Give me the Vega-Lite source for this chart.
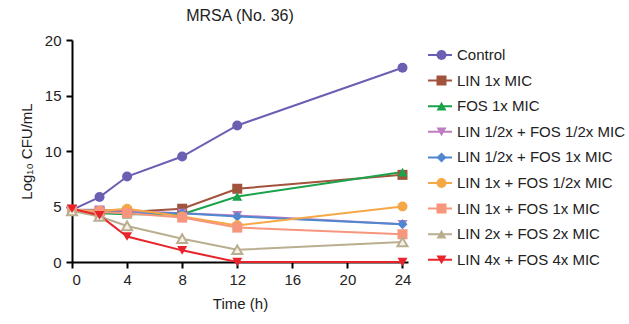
{
  "$schema": "https://vega.github.io/schema/vega-lite/v6.json",
  "autosize": {"type": "none"},
  "width": 336,
  "height": 222,
  "padding": {"left": 72, "top": 40, "right": 221, "bottom": 62},
  "background": "white",
  "title": {"text": "MRSA (No. 36)", "font": "Liberation Sans", "fontSize": 16, "fontWeight": "normal", "color": "#222", "anchor": "middle", "offset": 9},
  "config": {
    "view": {"stroke": null},
    "font": "Liberation Sans",
    "axis": {"domainColor": "#000", "domainWidth": 2, "tickColor": "#000", "tickWidth": 2, "tickSize": 6, "grid": false, "labelFont": "Liberation Sans", "labelFontSize": 15, "labelColor": "#222", "titleFont": "Liberation Sans", "titleFontSize": 15, "titleFontWeight": "normal", "titleColor": "#222"}
  },
  "data": {"values": [
    {"series": "Control", "code": "a", "t": 0, "v": 4.7},
    {"series": "Control", "code": "a", "t": 2, "v": 5.85},
    {"series": "Control", "code": "a", "t": 4, "v": 7.7},
    {"series": "Control", "code": "a", "t": 8, "v": 9.5},
    {"series": "Control", "code": "a", "t": 12, "v": 12.3},
    {"series": "Control", "code": "a", "t": 24, "v": 17.5},
    {"series": "LIN 1x MIC", "code": "b", "t": 0, "v": 4.7},
    {"series": "LIN 1x MIC", "code": "b", "t": 2, "v": 4.6},
    {"series": "LIN 1x MIC", "code": "b", "t": 4, "v": 4.5},
    {"series": "LIN 1x MIC", "code": "b", "t": 8, "v": 4.8},
    {"series": "LIN 1x MIC", "code": "b", "t": 12, "v": 6.6},
    {"series": "LIN 1x MIC", "code": "b", "t": 24, "v": 7.85},
    {"series": "FOS 1x MIC", "code": "c", "t": 0, "v": 4.7},
    {"series": "FOS 1x MIC", "code": "c", "t": 2, "v": 4.4},
    {"series": "FOS 1x MIC", "code": "c", "t": 4, "v": 4.3},
    {"series": "FOS 1x MIC", "code": "c", "t": 8, "v": 4.3},
    {"series": "FOS 1x MIC", "code": "c", "t": 12, "v": 5.9},
    {"series": "FOS 1x MIC", "code": "c", "t": 24, "v": 8.1},
    {"series": "LIN 1/2x + FOS 1/2x MIC", "code": "d", "t": 0, "v": 4.7},
    {"series": "LIN 1/2x + FOS 1/2x MIC", "code": "d", "t": 2, "v": 4.7},
    {"series": "LIN 1/2x + FOS 1/2x MIC", "code": "d", "t": 4, "v": 4.6},
    {"series": "LIN 1/2x + FOS 1/2x MIC", "code": "d", "t": 8, "v": 4.4},
    {"series": "LIN 1/2x + FOS 1/2x MIC", "code": "d", "t": 12, "v": 4.2},
    {"series": "LIN 1/2x + FOS 1/2x MIC", "code": "d", "t": 24, "v": 3.4},
    {"series": "LIN 1/2x + FOS 1x MIC", "code": "e", "t": 0, "v": 4.7},
    {"series": "LIN 1/2x + FOS 1x MIC", "code": "e", "t": 2, "v": 4.6},
    {"series": "LIN 1/2x + FOS 1x MIC", "code": "e", "t": 4, "v": 4.4},
    {"series": "LIN 1/2x + FOS 1x MIC", "code": "e", "t": 8, "v": 4.4},
    {"series": "LIN 1/2x + FOS 1x MIC", "code": "e", "t": 12, "v": 4.1},
    {"series": "LIN 1/2x + FOS 1x MIC", "code": "e", "t": 24, "v": 3.4},
    {"series": "LIN 1x + FOS 1/2x MIC", "code": "f", "t": 0, "v": 4.7},
    {"series": "LIN 1x + FOS 1/2x MIC", "code": "f", "t": 2, "v": 4.6},
    {"series": "LIN 1x + FOS 1/2x MIC", "code": "f", "t": 4, "v": 4.8},
    {"series": "LIN 1x + FOS 1/2x MIC", "code": "f", "t": 8, "v": 4.1},
    {"series": "LIN 1x + FOS 1/2x MIC", "code": "f", "t": 12, "v": 3.3},
    {"series": "LIN 1x + FOS 1/2x MIC", "code": "f", "t": 24, "v": 5.0},
    {"series": "LIN 1x + FOS 1x MIC", "code": "g", "t": 0, "v": 4.6},
    {"series": "LIN 1x + FOS 1x MIC", "code": "g", "t": 2, "v": 4.5},
    {"series": "LIN 1x + FOS 1x MIC", "code": "g", "t": 4, "v": 4.4},
    {"series": "LIN 1x + FOS 1x MIC", "code": "g", "t": 8, "v": 4.0},
    {"series": "LIN 1x + FOS 1x MIC", "code": "g", "t": 12, "v": 3.1},
    {"series": "LIN 1x + FOS 1x MIC", "code": "g", "t": 24, "v": 2.5},
    {"series": "LIN 2x + FOS 2x MIC", "code": "h", "t": 0, "v": 4.6},
    {"series": "LIN 2x + FOS 2x MIC", "code": "h", "t": 2, "v": 4.1},
    {"series": "LIN 2x + FOS 2x MIC", "code": "h", "t": 4, "v": 3.25},
    {"series": "LIN 2x + FOS 2x MIC", "code": "h", "t": 8, "v": 2.1},
    {"series": "LIN 2x + FOS 2x MIC", "code": "h", "t": 12, "v": 1.1},
    {"series": "LIN 2x + FOS 2x MIC", "code": "h", "t": 24, "v": 1.8},
    {"series": "LIN 4x + FOS 4x MIC", "code": "i", "t": 0, "v": 4.8},
    {"series": "LIN 4x + FOS 4x MIC", "code": "i", "t": 2, "v": 4.2},
    {"series": "LIN 4x + FOS 4x MIC", "code": "i", "t": 4, "v": 2.3},
    {"series": "LIN 4x + FOS 4x MIC", "code": "i", "t": 8, "v": 1.05},
    {"series": "LIN 4x + FOS 4x MIC", "code": "i", "t": 12, "v": 0},
    {"series": "LIN 4x + FOS 4x MIC", "code": "i", "t": 24, "v": 0}
  ]},
  "encoding": {
    "x": {"field": "t", "type": "quantitative", "scale": {"domain": [0, 24.4], "nice": false}, "axis": {"values": [0, 4, 8, 12, 16, 20, 24], "title": "Time (h)", "titlePadding": 9, "labelPadding": 4}},
    "y": {"field": "v", "type": "quantitative", "scale": {"domain": [0, 20], "nice": false}, "axis": {"values": [0, 5, 10, 15, 20], "title": "Log₁₀ CFU/mL", "titlePadding": 10, "labelPadding": 5}}
  },
  "layer": [
    {
      "mark": {"type": "line", "strokeWidth": 2, "clip": false},
      "encoding": {
        "stroke": {"field": "series", "type": "nominal",
          "scale": {"domain": ["Control", "LIN 1x MIC", "FOS 1x MIC", "LIN 1/2x + FOS 1/2x MIC", "LIN 1/2x + FOS 1x MIC", "LIN 1x + FOS 1/2x MIC", "LIN 1x + FOS 1x MIC", "LIN 2x + FOS 2x MIC", "LIN 4x + FOS 4x MIC"],
                    "range": ["#6a5fb3", "#a2533c", "#1ba34b", "#c07cc0", "#4f88cf", "#f6a847", "#f6967d", "#b9ae8e", "#e8232a"]},
          "legend": {"title": null, "orient": "none", "legendX": 355, "legendY": 7, "symbolType": "stroke", "symbolSize": 576, "symbolStrokeWidth": 2, "labelFont": "Liberation Sans", "labelFontSize": 15, "labelColor": "#222", "labelOffset": 4, "labelLimit": 220, "clipHeight": 16, "rowPadding": 9.6, "padding": 0}
        }
      }
    },
    {
      "mark": {"type": "point", "filled": true, "size": 100, "opacity": 1, "clip": false, "strokeWidth": 2},
      "encoding": {
        "fill": {"condition": {"test": "datum.series === 'LIN 2x + FOS 2x MIC'", "value": "#f4f1e8"},
          "field": "code", "type": "nominal",
          "scale": {"domain": ["a","b","c","d","e","f","g","h","i"], "range": ["#6a5fb3", "#a2533c", "#1ba34b", "#c07cc0", "#4f88cf", "#f6a847", "#f6967d", "#b9ae8e", "#e8232a"]},
          "legend": {"title": null, "orient": "none", "legendX": 362, "legendY": 7, "symbolSize": 100, "labelExpr": "''", "labelFontSize": 15, "labelOffset": 4, "clipHeight": 16, "rowPadding": 9.6, "padding": 0, "symbolStrokeWidth": 0,
            "encode": {"symbols": {"update": {
              "fill": [{"test": "datum.value === 'h'", "value": "#f4f1e8"}, {"scale": "fill", "field": "value"}],
              "stroke": [{"test": "datum.value === 'h'", "value": "#b9ae8e"}, {"value": "transparent"}],
              "strokeWidth": {"value": 2}}}}}
        },
        "shape": {"field": "code", "type": "nominal",
          "scale": {"domain": ["a","b","c","d","e","f","g","h","i"], "range": ["circle", "square", "triangle-up", "triangle-down", "diamond", "circle", "square", "triangle-up", "triangle-down"]}},
        "stroke": {"condition": {"test": "datum.series === 'LIN 2x + FOS 2x MIC'", "value": "#b9ae8e"}, "value": "transparent"}
      }
    }
  ]
}
